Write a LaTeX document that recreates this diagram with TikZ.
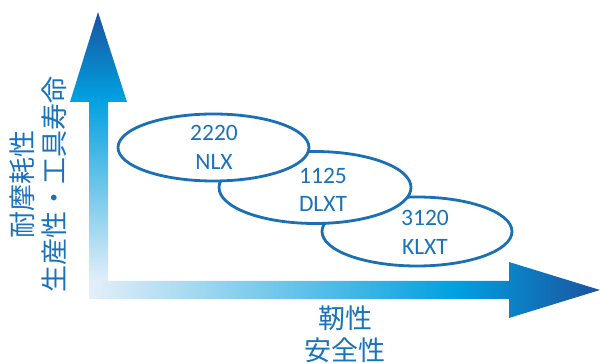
\documentclass[tikz,border=0pt]{standalone}
\usepackage{fontspec}
\setmainfont{Carlito}
\newfontfamily\cjk{Noto Sans CJK JP}
\usetikzlibrary{shapes.geometric}
\definecolor{txtblue}{HTML}{1A72B9}
\definecolor{lineblue}{HTML}{1B6FB5}
\pgfdeclareverticalshading{vshade}{100bp}{%
  color(0bp)=(rgb,255:red,226;green,238;blue,248);
  color(25bp)=(rgb,255:red,226;green,238;blue,248);
  color(59bp)=(rgb,255:red,0;green,160;blue,223);
  color(75bp)=(rgb,255:red,28;green,82;blue,160);
  color(100bp)=(rgb,255:red,28;green,82;blue,160)}
\pgfdeclarehorizontalshading{hshade}{100bp}{%
  color(0bp)=(rgb,255:red,228;green,239;blue,248);
  color(25bp)=(rgb,255:red,228;green,239;blue,248);
  color(61bp)=(rgb,255:red,0;green,160;blue,223);
  color(75bp)=(rgb,255:red,28;green,82;blue,160);
  color(100bp)=(rgb,255:red,28;green,82;blue,160)}
\tikzset{
  oval/.style={ellipse, draw=lineblue, line width=2.8pt, fill=white,
    minimum width=#1, inner sep=0pt},
  lbl/.style={text=txtblue, font=\fontsize{23.5}{28.5}\selectfont, align=center},
  cjklbl/.style={text=txtblue, font=\cjk\fontsize{27}{32}\selectfont, align=center}
}
\begin{document}
\begin{tikzpicture}[x=1pt,y=-1pt]
\useasboundingbox (0,0) rectangle (600,363);
% vertical arrow
\shade[shading=vshade] (89,281) -- (89,102) -- (70,102) -- (98,12) -- (127,102)
  -- (108,102) -- (108,281) -- cycle;
% horizontal arrow
\shade[shading=hshade] (89,281) -- (509,281) -- (509,262) -- (600,290)
  -- (509,318) -- (509,299) -- (89,299) -- cycle;
% ellipses (back to front)
\node[oval=190pt, minimum height=69pt] (e3) at (417,231.5) {};
\node[oval=192pt, minimum height=72pt] (e2) at (315,187.5) {};
\node[oval=191pt, minimum height=67pt] (e1) at (213.5,147.5) {};
\node[lbl] (t1) at (214,147.5) {2220\\NLX};
\node[lbl] (t2) at (323,190) {1125\\DLXT};
\node[lbl] (t3) at (425,232.5) {3120\\KLXT};
% axis labels
\node[cjklbl, rotate=90] (ylab) at (38,185) {耐摩耗性\\生産性・工具寿命};
\node[cjklbl] (xlab) at (345,334) {靭性\\安全性};
\end{tikzpicture}
\end{document}
